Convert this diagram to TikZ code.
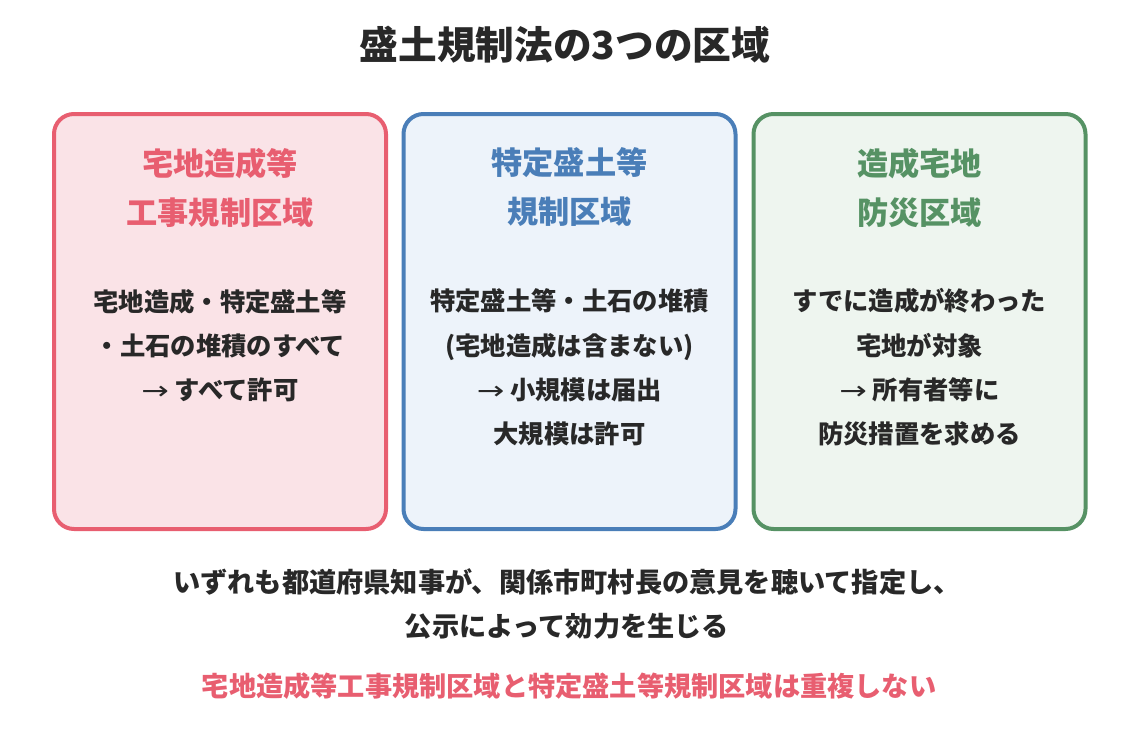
\documentclass[tikz,border=0pt]{standalone}
\usepackage{fontspec}
\setmainfont{Noto Sans CJK JP}
\newfontfamily\arrowfont{DejaVu Sans}
\newcommand{\zonearrow}{\scalebox{1.3}[1]{\arrowfont\mdseries →}\ }
\begin{document}
\begin{tikzpicture}[x=0.75pt, y=-0.75pt, line join=round,
  zonebox/.style={draw=#1, fill=#1fill, line width=3pt, rounded corners=15pt,
    minimum width=249pt, minimum height=311.25pt, inner sep=0pt},
  zonehead/.style={text=#1, font=\bfseries\fontsize{23.4}{36.75}\selectfont,
    align=center, inner sep=0pt},
  zonetext/.style={text=ink, font=\bfseries\fontsize{19}{33.2}\selectfont,
    align=center, inner sep=0pt},
  notetext/.style={font=\bfseries\fontsize{20.4}{33}\selectfont,
    align=center, inner sep=0pt}]
  \definecolor{ink}{RGB}{40,40,40}
  \definecolor{zred}{RGB}{232,94,112}
  \definecolor{zredfill}{RGB}{250,227,231}
  \definecolor{zblue}{RGB}{74,126,184}
  \definecolor{zbluefill}{RGB}{237,243,250}
  \definecolor{zgreen}{RGB}{86,146,100}
  \definecolor{zgreenfill}{RGB}{238,245,239}

  \useasboundingbox (0,0) rectangle (1132,740);

  % title
  \node[text=ink, font=\bfseries\fontsize{29}{34}\selectfont, inner sep=0pt]
    (title) at (565,45) {盛土規制法の3つの区域};

  % the three zones
  \node[zonebox=zred]   (kouji)   at (220,321.5) {};
  \node[zonebox=zblue]  (tokutei) at (569.5,321.5) {};
  \node[zonebox=zgreen] (bousai)  at (919.5,321.5) {};

  \node[zonehead=zred]   (koujiHead)   at (220,187.5) {宅地造成等\\工事規制区域};
  \node[zonehead=zblue]  (tokuteiHead) at (569.5,187.5) {特定盛土等\\規制区域};
  \node[zonehead=zgreen] (bousaiHead)  at (919.5,187.5) {造成宅地\\防災区域};

  \node[zonetext] (koujiText) at (220,345.7)
    {宅地造成・特定盛土等\\・土石の堆積のすべて\\\zonearrow すべて許可};
  \node[zonetext] (tokuteiText) at (569.5,367.5)
    {特定盛土等・土石の堆積\\(宅地造成は含まない)\\\zonearrow 小規模は届出\\大規模は許可};
  \node[zonetext] (bousaiText) at (919.5,367.5)
    {すでに造成が終わった\\宅地が対象\\\zonearrow 所有者等に\\防災措置を求める};

  % notes below
  \node[notetext, text=ink] (shitei) at (567,604)
    {いずれも都道府県知事が、関係市町村長の意見を聴いて指定し、\\公示によって効力を生じる};
  \node[notetext, text=zred] (juufuku) at (569,686)
    {宅地造成等工事規制区域と特定盛土等規制区域は重複しない};
\end{tikzpicture}
\end{document}
